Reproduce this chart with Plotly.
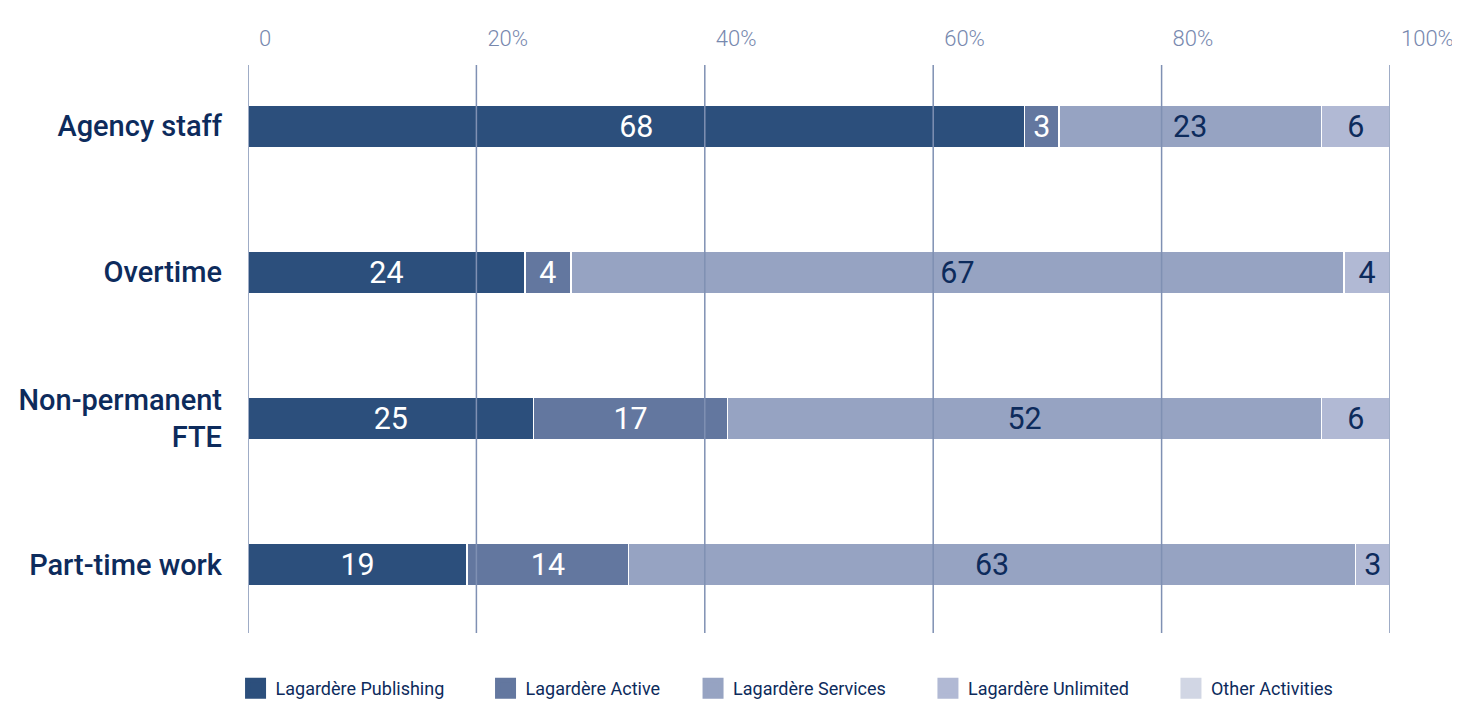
import plotly.graph_objects as go

categories = ["Agency staff", "Overtime", "Non-permanent<br>FTE", "Part-time work"]
series_names = ["Lagardère Publishing", "Lagardère Active", "Lagardère Services",
                "Lagardère Unlimited", "Other Activities"]
publishing = [68, 24, 25, 19]
active = [3, 4, 17, 14]
services = [23, 67, 52, 63]
unlimited = [6, 4, 6, 3]
tick_vals = [0, 20, 40, 60, 80, 100]
tick_labels = ["0", "20%", "40%", "60%", "80%", "100%"]

colors = ["#2c4f7c", "#63779f", "#96a3c2", "#b1b9d4", "#d1d6e4"]
text_colors = ["#ffffff", "#ffffff", "#0d2b5c", "#0d2b5c"]
FONT = "Roboto"
NAVY = "#0d2b5c"

fig = go.Figure()
for name, vals, col, tcol in zip(series_names[:4], [publishing, active, services, unlimited],
                                 colors[:4], text_colors):
    fig.add_trace(go.Bar(
        y=categories, x=vals, orientation="h", name=name,
        marker=dict(color=col, line=dict(color="white", width=1.5)),
        text=[str(v) for v in vals], textposition="inside",
        insidetextanchor="middle", textangle=0,
        textfont=dict(family=FONT, size=31, color=tcol),
        width=0.29, showlegend=False, hoverinfo="skip",
    ))

# legend-only entries, each in its own legend so they can be spaced like the original
legend_ids = ["legend", "legend2", "legend3", "legend4", "legend5"]
legend_x = [-0.0109, 0.2080, 0.3897, 0.5954, 0.8082]
for name, col, lid in zip(series_names, colors, legend_ids):
    fig.add_trace(go.Scatter(
        x=[None], y=[None], mode="markers", name=name, legend=lid,
        marker=dict(symbol="square", size=16, color=col, line=dict(color=col, width=6)),
        showlegend=True, hoverinfo="skip",
    ))

# gridlines drawn above bars
for v in tick_vals:
    fig.add_shape(type="line", xref="x", yref="paper", x0=v, x1=v, y0=0, y1=1,
                  line=dict(color="#7f90b3", width=1.5), layer="above")

legend_common = dict(orientation="h", xanchor="left", y=-0.0977, yanchor="middle",
                     font=dict(family=FONT, size=18, color=NAVY),
                     itemsizing="trace", itemwidth=30, bgcolor="rgba(0,0,0,0)")
layout_legends = {}
for lid, lx in zip(legend_ids, legend_x):
    layout_legends[lid] = dict(legend_common, x=lx)

fig.update_layout(
    barmode="stack", barnorm="percent",
    width=1460, height=703,
    margin=dict(l=240, r=78, t=57, b=78, autoexpand=False),
    paper_bgcolor="white", plot_bgcolor="white",
    font=dict(family=FONT),
    uniformtext=dict(mode="show", minsize=26),
    showlegend=True,
    xaxis=dict(range=[0, 100], side="top", tickvals=tick_vals, ticktext=tick_labels,
               showgrid=False, zeroline=False, showline=False, ticks="",
               ticklabelposition="outside right", ticklabelshift=11, ticklabelstandoff=14,
               tickfont=dict(family=FONT, size=22, color="#7788ae", weight=300),
               fixedrange=True, automargin=False),
    yaxis=dict(range=[3.47, -0.42], type="category", categoryorder="array",
               categoryarray=categories, showgrid=False, zeroline=False,
               showline=False, ticks="", ticklabelstandoff=25,
               tickfont=dict(family=FONT, size=29, color=NAVY, weight=500),
               fixedrange=True, automargin=False),
    **layout_legends,
)

fig.write_html("out.html")
